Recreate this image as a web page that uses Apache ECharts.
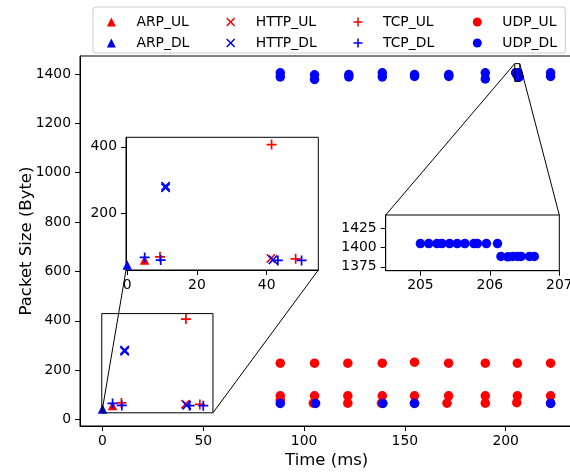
<!DOCTYPE html>
<html>
<head>
<meta charset="utf-8">
<script src="https://cdn.jsdelivr.net/npm/echarts@6/dist/echarts.min.js"></script>
<style>html,body{margin:0;padding:0;background:#fff}#c{width:570px;height:474px}</style>
</head>
<body>
<div id="c"></div>
<script>
// ---- data: [time (ms), packet size (Byte)] ----
const ARP_UL = [[5, 57]];
const ARP_DL = [[0, 42]];
const HTTP_UL = [[41.2, 62]];
const HTTP_DL = [[11, 276], [11, 281], [41.8, 58]];
const TCP_UL = [[9.4, 67], [41.4, 407], [48.3, 61]];
const TCP_DL = [[5, 65], [9.6, 57], [43.2, 56], [50, 56]];
const UDP_UL = [
  [88.2, 228], [88.2, 96], [88.2, 78],
  [105.2, 228], [105.2, 96], [104.6, 66],
  [121.7, 228], [121.7, 96], [121.7, 66],
  [138.8, 228], [138.8, 96], [138.4, 66],
  [154.8, 232], [154.8, 96], [154.8, 66],
  [171.7, 228], [171.7, 96], [170.9, 66],
  [189.9, 228], [189.9, 96], [189.9, 66],
  [205.8, 228], [205.8, 96], [205.5, 68],
  [222.3, 228], [222.3, 96], [222.3, 66]
];
const UDP_DL = [
  [88.2, 1405], [88.2, 1388], [88.2, 65],
  [105.2, 1397], [105.2, 1378], [105.7, 65],
  [122.2, 1398], [122.2, 1388],
  [138.8, 1405], [138.8, 1388], [139.1, 65],
  [154.8, 1398], [154.8, 1390], [154.8, 65],
  [171.8, 1398], [171.8, 1390],
  [189.9, 1405], [189.9, 1380],
  [205.0, 1405], [205.12, 1405], [205.24, 1405], [205.31, 1405], [205.42, 1405],
  [205.53, 1405], [205.64, 1405], [205.77, 1405], [205.82, 1405], [205.95, 1405], [206.11, 1405],
  [206.16, 1388.5], [206.26, 1388], [206.33, 1388.5], [206.4, 1388.5], [206.45, 1388.5],
  [206.57, 1388.5], [206.64, 1388.5],
  [222.3, 1405], [222.3, 1390], [222.3, 65]
];

// ---- axis ranges and tick labels ----
const MAIN_X_RANGE = [-11.15, 233.6];
const MAIN_Y_RANGE = [-26.5, 1473];
const MAIN_X_TICKS = [0, 50, 100, 150, 200];
const MAIN_Y_TICKS = [0, 200, 400, 600, 800, 1000, 1200, 1400];
const INSET1_X_RANGE = [-0.35, 54.8];
const INSET1_Y_RANGE = [27, 429];
const INSET1_X_TICKS = [0, 20, 40];
const INSET1_Y_TICKS = [200, 400];
const INSET2_X_RANGE = [204.5, 207];
const INSET2_Y_RANGE = [1370, 1442];
const INSET2_X_TICKS = [205, 206, 207];
const INSET2_Y_TICKS = [1375, 1400, 1425];

const X_NAME = 'Time (ms)';
const Y_NAME = 'Packet Size (Byte)';
const LEGEND_ORDER = ['ARP_UL', 'HTTP_UL', 'TCP_UL', 'UDP_UL', 'ARP_DL', 'HTTP_DL', 'TCP_DL', 'UDP_DL'];

// ---- styles ----
const RED = '#ff0000', BLUE = '#0000ff';
const FONT = 'DejaVu Sans';
const PLUS = 'path://M4.15,0H5.85V4.15H10V5.85H5.85V10H4.15V5.85H0V4.15H4.15Z';
const CROSS = 'path://M0,1.2L1.2,0L5,3.8L8.8,0L10,1.2L6.2,5L10,8.8L8.8,10L5,6.2L1.2,10L0,8.8L3.8,5Z';

const DEFS = [
  { name: 'ARP_UL', data: ARP_UL, symbol: 'triangle', color: RED, size: 9.5 },
  { name: 'ARP_DL', data: ARP_DL, symbol: 'triangle', color: BLUE, size: 9.5 },
  { name: 'HTTP_UL', data: HTTP_UL, symbol: CROSS, color: RED, size: 9.5 },
  { name: 'HTTP_DL', data: HTTP_DL, symbol: CROSS, color: BLUE, size: 9.5 },
  { name: 'TCP_UL', data: TCP_UL, symbol: PLUS, color: RED, size: 10 },
  { name: 'TCP_DL', data: TCP_DL, symbol: PLUS, color: BLUE, size: 10 },
  { name: 'UDP_UL', data: UDP_UL, symbol: 'circle', color: RED, size: 9.5 },
  { name: 'UDP_DL', data: UDP_DL, symbol: 'circle', color: BLUE, size: 9.5 }
];

const gridBase = { show: true, borderColor: '#000', borderWidth: 1, containLabel: false, outerBoundsMode: 'none' };
const grids = [
  Object.assign({ left: 80, top: 56, width: 493.4, height: 370, backgroundColor: 'transparent' }, gridBase),
  Object.assign({ left: 126, top: 137.3, width: 192.3, height: 132.7, backgroundColor: '#fff' }, gridBase),
  Object.assign({ left: 385.7, top: 215, width: 173.6, height: 55.7, backgroundColor: '#fff' }, gridBase)
];

function mkX(g, range, ticks, name) {
  return {
    type: 'value', gridIndex: g, min: range[0], max: range[1],
    name: name || '', nameLocation: 'middle', nameGap: 26.5, nameMoveOverlap: false,
    nameTextStyle: { fontFamily: FONT, fontSize: 16.5, color: '#000' },
    splitLine: { show: false },
    axisLine: { show: true, onZero: false, lineStyle: { color: '#000', width: 1 } },
    axisTick: { show: true, length: 5, inside: false, customValues: ticks, lineStyle: { color: '#000', width: 1 } },
    axisLabel: { customValues: ticks, margin: 8, fontFamily: FONT, fontSize: 13.9, color: '#000', formatter: v => String(v), hideOverlap: false, showMinLabel: true, showMaxLabel: true }
  };
}
function mkY(g, range, ticks, name) {
  return {
    type: 'value', gridIndex: g, min: range[0], max: range[1],
    name: name || '', nameLocation: 'middle', nameGap: 45, nameRotate: 90, nameMoveOverlap: false,
    nameTextStyle: { fontFamily: FONT, fontSize: 16.5, color: '#000' },
    splitLine: { show: false },
    axisLine: { show: true, onZero: false, lineStyle: { color: '#000', width: 1 } },
    axisTick: { show: true, length: 5, inside: false, customValues: ticks, lineStyle: { color: '#000', width: 1 } },
    axisLabel: { customValues: ticks, margin: 9, fontFamily: FONT, fontSize: 13.9, color: '#000', formatter: v => String(v), hideOverlap: false, showMinLabel: true, showMaxLabel: true }
  };
}

const series = [];
for (let g = 0; g < 3; g++) {
  DEFS.forEach(d => {
    series.push({
      type: 'scatter', name: d.name, xAxisIndex: g, yAxisIndex: g,
      data: d.data, symbol: d.symbol, symbolSize: d.size, clip: true,
      itemStyle: { color: d.color, opacity: 1 },
      emphasis: { disabled: true }, z: 2 + g * 3
    });
  });
}

const chart = echarts.init(document.getElementById('c'), null, { renderer: 'canvas' });
chart.setOption({
  animation: false,
  backgroundColor: '#fff',
  grid: grids,
  xAxis: [mkX(0, MAIN_X_RANGE, MAIN_X_TICKS, X_NAME), mkX(1, INSET1_X_RANGE, INSET1_X_TICKS), mkX(2, INSET2_X_RANGE, INSET2_X_TICKS)],
  yAxis: [mkY(0, MAIN_Y_RANGE, MAIN_Y_TICKS, Y_NAME), mkY(1, INSET1_Y_RANGE, INSET1_Y_TICKS), mkY(2, INSET2_Y_RANGE, INSET2_Y_TICKS)],
  legend: {
    left: 93, top: 7, width: 454,
    padding: [8, 5, 3, 13.9],
    itemGap: 7, itemWidth: 9, itemHeight: 9,
    data: LEGEND_ORDER,
    backgroundColor: 'rgba(255,255,255,0.8)', borderColor: '#cccccc', borderWidth: 1, borderRadius: 3,
    formatter: n => n.startsWith('HTTP') ? '{h|' + n + '}' : (n.startsWith('UDP') ? '{u|' + n + '}' : '{n|' + n + '}'),
    textStyle: {
      fontFamily: FONT, fontSize: 13.9, color: '#000', padding: [0, 0, 0, 15.5], lineHeight: 14,
      rich: {
        n: { width: 82.8, fontFamily: FONT, fontSize: 13.9, color: '#000', lineHeight: 14 },
        h: { width: 90.8, fontFamily: FONT, fontSize: 13.9, color: '#000', lineHeight: 14 },
        u: { width: 58, fontFamily: FONT, fontSize: 13.9, color: '#000', lineHeight: 14 }
      }
    }
  },
  series: series
});

// ---- zoom indicators and connectors, placed through the axes' own scales ----
function px(g, v) { return chart.convertToPixel({ xAxisIndex: g, yAxisIndex: g }, v); }
const r1a = px(0, [INSET1_X_RANGE[0], INSET1_Y_RANGE[1]]);
const r1b = px(0, [INSET1_X_RANGE[1], INSET1_Y_RANGE[0]]);
const i1bl = px(1, [INSET1_X_RANGE[0], INSET1_Y_RANGE[0]]);
const i1br = px(1, [INSET1_X_RANGE[1], INSET1_Y_RANGE[0]]);
const r2a = px(0, [INSET2_X_RANGE[0], INSET2_Y_RANGE[1]]);
const r2b = px(0, [INSET2_X_RANGE[1], INSET2_Y_RANGE[0]]);
const i2tl = px(2, [INSET2_X_RANGE[0], INSET2_Y_RANGE[1]]);
const i2tr = px(2, [INSET2_X_RANGE[1], INSET2_Y_RANGE[1]]);
const ls = { stroke: '#000', lineWidth: 1, fill: null };
chart.setOption({
  graphic: [
    { type: 'rect', z: 50, silent: true, shape: { x: r1a[0], y: r1a[1], width: r1b[0] - r1a[0], height: r1b[1] - r1a[1] }, style: ls },
    { type: 'line', z: 50, silent: true, shape: { x1: r1a[0], y1: r1b[1], x2: i1bl[0], y2: i1bl[1] }, style: ls },
    { type: 'line', z: 50, silent: true, shape: { x1: r1b[0], y1: r1b[1], x2: i1br[0], y2: i1br[1] }, style: ls },
    { type: 'rect', z: 50, silent: true, shape: { x: r2a[0], y: r2a[1], width: r2b[0] - r2a[0], height: r2b[1] - r2a[1] }, style: ls },
    { type: 'line', z: 50, silent: true, shape: { x1: r2a[0], y1: r2a[1], x2: i2tl[0], y2: i2tl[1] }, style: ls },
    { type: 'line', z: 50, silent: true, shape: { x1: r2b[0], y1: r2a[1], x2: i2tr[0], y2: i2tr[1] }, style: ls }
  ]
});
</script>
</body>
</html>
